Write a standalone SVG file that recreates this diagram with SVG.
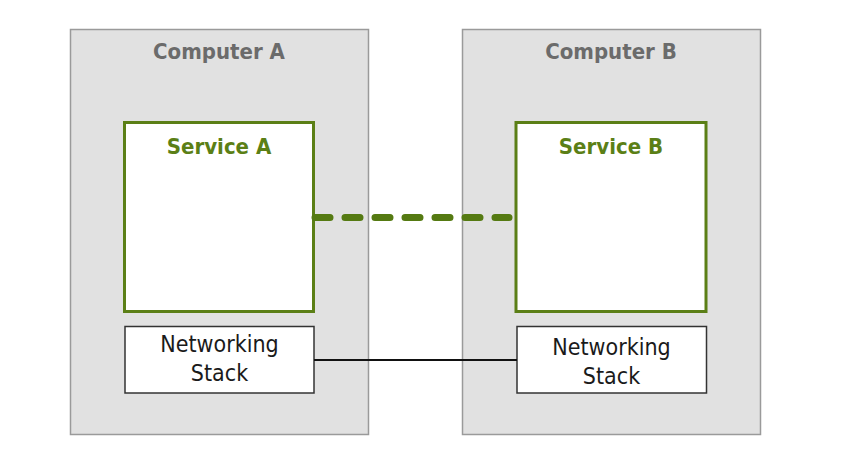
<svg xmlns="http://www.w3.org/2000/svg" width="856" height="464" viewBox="0 0 856 464">
<style>
.computer{fill:#e1e1e1;stroke:#9a9a9a;stroke-width:1.5}
.service{fill:#ffffff;stroke:#5b7f16;stroke-width:3}
.stack{fill:#ffffff;stroke:#333333;stroke-width:1.5}
.ctitle{font-family:"DejaVu Sans Condensed","DejaVu Sans",sans-serif;font-size:22px;font-weight:bold;fill:#6b6b6b;text-anchor:middle}
.stitle{font-family:"DejaVu Sans Condensed","DejaVu Sans",sans-serif;font-size:22px;font-weight:bold;fill:#5b7f16;text-anchor:middle}
.ntext{font-family:"DejaVu Sans Condensed","DejaVu Sans",sans-serif;font-size:23px;fill:#1a1a1a;text-anchor:middle}
.dash{stroke:#557a12;stroke-width:7;stroke-dasharray:15 15;stroke-linecap:round;fill:none}
.wire{stroke:#111111;stroke-width:2;fill:none}
</style>
<rect width="856" height="464" fill="#ffffff"/>
<g id="computer-a">
<rect class="computer" x="70.5" y="29.5" width="298" height="405"/>
<text class="ctitle" x="219" y="59">Computer A</text>
</g>
<g id="computer-b">
<rect class="computer" x="462.5" y="29.5" width="298" height="405"/>
<text class="ctitle" x="611" y="59">Computer B</text>
</g>
<g id="service-a">
<rect class="service" x="124.5" y="122.5" width="189" height="189"/>
<text class="stitle" x="219" y="154">Service A</text>
</g>
<g id="service-b">
<rect class="service" x="516" y="122.5" width="190" height="189"/>
<text class="stitle" x="611" y="154">Service B</text>
</g>
<g id="stack-a">
<rect class="stack" x="125" y="326.5" width="189" height="66.5"/>
<text class="ntext" x="219.5" y="352">Networking</text>
<text class="ntext" x="219.5" y="381">Stack</text>
</g>
<g id="stack-b">
<rect class="stack" x="517" y="326.5" width="189.5" height="66.5"/>
<text class="ntext" x="611.5" y="355">Networking</text>
<text class="ntext" x="611.5" y="384">Stack</text>
</g>
<g id="connectors">
<line class="dash" x1="315" y1="217.5" x2="509" y2="217.5"/>
<line class="wire" x1="314" y1="360" x2="517" y2="360"/>
</g>
</svg>
